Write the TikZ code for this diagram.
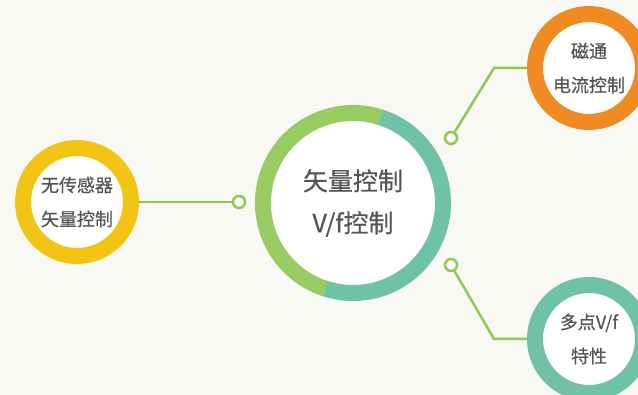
\documentclass[tikz,border=0pt]{standalone}
\usepackage{fontspec}
\newfontfamily\cjk[FakeBold=0.5]{Noto Sans CJK SC}
\usepackage{xcolor}
\usetikzlibrary{positioning}
\definecolor{bgpaper}{HTML}{F8F8F5}
\definecolor{ringyellow}{HTML}{F2C514}
\definecolor{ringorange}{HTML}{EF8B22}
\definecolor{ringteal}{HTML}{6FC2A6}
\definecolor{ringgreen}{HTML}{98CB62}
\definecolor{linkgreen}{HTML}{8FC952}
\definecolor{txtgray}{HTML}{555555}
\tikzset{
  ring/.style={circle,draw=#1,line width=16pt,fill=white,minimum size=108pt,inner sep=0pt,
    align=center,text=txtgray,font=\cjk\fontsize{18}{34}\selectfont},
  hubring/.style={circle,fill=white,minimum size=180pt,inner sep=0pt,
    align=center,text=txtgray,font=\cjk\fontsize{25}{42}\selectfont},
  dot/.style={circle,draw=linkgreen,line width=2.5pt,fill=white,minimum size=12pt,inner sep=0pt},
  link/.style={linkgreen,line width=2.5pt}
}

\begin{document}
\begin{tikzpicture}[x=1pt,y=1pt]
    \clip (0,0) rectangle (638,395);
    \fill[bgpaper] (0,0) rectangle (638,395);
    % central ring, two halves
    \node[hubring] (hub) at (353,192) {矢量控制\\V/f控制};
    \draw[ringgreen,line width=16pt] (hub.center) ++(72:90) arc[start angle=72,end angle=252,radius=90];
    \draw[ringteal,line width=16pt] (hub.center) ++(252:90) arc[start angle=252,end angle=432,radius=90];
    % outer rings
    \node[ring=ringyellow] (sensorless) at (77,193) {无传感器\\矢量控制};
    \node[ring=ringorange] (flux) at (589,327) {磁通\\电流控制};
    \node[ring=ringteal] (multivf) at (589,56) {多点V/f\\特性};
    % connectors
    \node[dot] (dleft) at (239,193) {};
    \node[dot] (dtop) at (451,257) {};
    \node[dot] (dbottom) at (451,130) {};
    \coordinate (btop) at (494,327);
    \coordinate (bbottom) at (494,56);
    \draw[link] (sensorless) -- (dleft);
    \draw[link] (dtop) -- (btop) -- (flux);
    \draw[link] (dbottom) -- (bbottom) -- (multivf);
\end{tikzpicture}
\end{document}
